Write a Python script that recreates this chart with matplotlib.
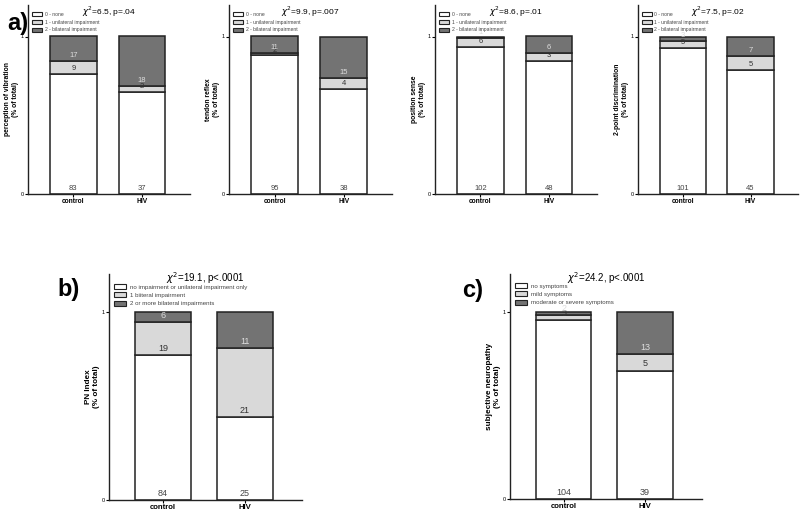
import matplotlib
matplotlib.use('Agg')
import matplotlib.pyplot as plt
import numpy as np
from matplotlib.patches import Patch

plt.rcParams['font.family'] = ['Liberation Sans', 'DejaVu Sans']

groups = ['control', 'HIV']

# counts per group: [level0, level1, level2]
vib = [[83, 9, 17], [37, 2, 18]]
reflex = [[95, 2, 11], [38, 4, 15]]
position = [[102, 6, 1], [48, 3, 6]]
twopoint = [[101, 5, 3], [45, 5, 7]]
pn_index = [[84, 19, 6], [25, 21, 11]]
subjective = [[104, 3, 2], [39, 5, 13]]

stats_a = ['6.5, p=.04', '9.9, p=.007', '8.6, p=.01', '7.5, p=.02']
stat_b = '19.1, p<.0001'
stat_c = '24.2, p<.0001'

ylabels_a = ['perception of vibration', 'tendon reflex', 'position sense',
             '2-point discrimination']
legend_a = ['0 - none', '1 - unilateral impairment', '2 - bilateral impairment']
legend_b = ['no impairment or unilateral impairment only', '1 biiteral impairment',
            '2 or more bilateral impairments']
legend_c = ['no symptoms', 'mild symptoms', 'moderate or severe symptoms']

colors = ['white', '#d9d9d9', '#737373']
txtcol = ['#444444', '#333333', '#dddddd']

fig = plt.figure(figsize=(8, 5.15), dpi=100)


def panel(rect, data, ylab, stat, leg, small, chi_y, leg_top):
    ax = fig.add_axes(rect)
    x = np.arange(len(groups))
    fs_num = 5.5 if small else 6.5
    for i, counts in enumerate(data):
        tot = sum(counts)
        bottom = 0
        for k, c in enumerate(counts):
            frac = c / tot
            ax.bar(x[i], frac, bottom=bottom, width=0.68, color=colors[k],
                   edgecolor='#222222', linewidth=1.1)
            ax.text(x[i], bottom + 0.012, str(c), ha='center', va='bottom',
                    fontsize=fs_num, color=txtcol[k])
            bottom += frac
    ax.set_xlim(-0.66, 1.7)
    ax.set_ylim(0, 1.2)
    ax.set_yticks([0, 1])
    ax.set_yticklabels(['0', '1'])
    ax.set_xticks(x)
    ax.set_xticklabels(groups, fontweight='bold', fontsize=4.8 if small else 5.6)
    ax.tick_params(axis='y', labelsize=4, length=2, width=0.8, pad=1)
    ax.tick_params(axis='x', length=2, width=0.8, pad=1)
    for s in ['top', 'right']:
        ax.spines[s].set_visible(False)
    for s in ['left', 'bottom']:
        ax.spines[s].set_linewidth(1.0)
        ax.spines[s].set_color('#222222')
    ax.set_ylabel(ylab + '\n(% of total)', fontweight='bold',
                  fontsize=4.9 if small else 5.9, labelpad=1.5)
    ax.text(0.5, chi_y, r'$\chi^2$=' + stat, transform=ax.transAxes,
            ha='center', va='center', fontsize=6 if small else 7)
    handles = [Patch(facecolor=colors[k], edgecolor='#222222', linewidth=0.8)
               for k in range(3)]
    ax.legend(handles, leg, loc='upper left', bbox_to_anchor=(0.025, leg_top),
              frameon=False, fontsize=3.6 if small else 4.4,
              handlelength=1.9 if small else 2.0, handleheight=0.9,
              labelspacing=0.55 if small else 0.45,
              handletextpad=0.6, borderaxespad=0, borderpad=0,
              labelcolor='#444444')
    return ax


lefts = [28, 229, 435, 638]
widths = [162, 163, 162, 160]
data_a = [vib, reflex, position, twopoint]
for j in range(4):
    panel([lefts[j] / 800, 1 - 194 / 515, widths[j] / 800, 189 / 515],
          data_a[j], ylabels_a[j], stats_a[j], legend_a, True,
          (194 - 12) / 189, (194 - 12) / 189)

panel([109 / 800, 1 - 500 / 515, 193 / 800, 226 / 515], pn_index,
      'PN Index', stat_b, legend_b, False, (500 - 278) / 226, (500 - 284) / 226)
panel([510 / 800, 1 - 499 / 515, 192 / 800, 225 / 515], subjective,
      'subjective neuropathy', stat_c, legend_c, False,
      (499 - 278) / 225, (499 - 283) / 225)

fig.text(7 / 800, 1 - 30 / 515, 'a)', fontsize=17, fontweight='bold')
fig.text(57 / 800, 1 - 296 / 515, 'b)', fontsize=17, fontweight='bold')
fig.text(462 / 800, 1 - 297 / 515, 'c)', fontsize=17, fontweight='bold')

fig.savefig('out.png', dpi=100)
